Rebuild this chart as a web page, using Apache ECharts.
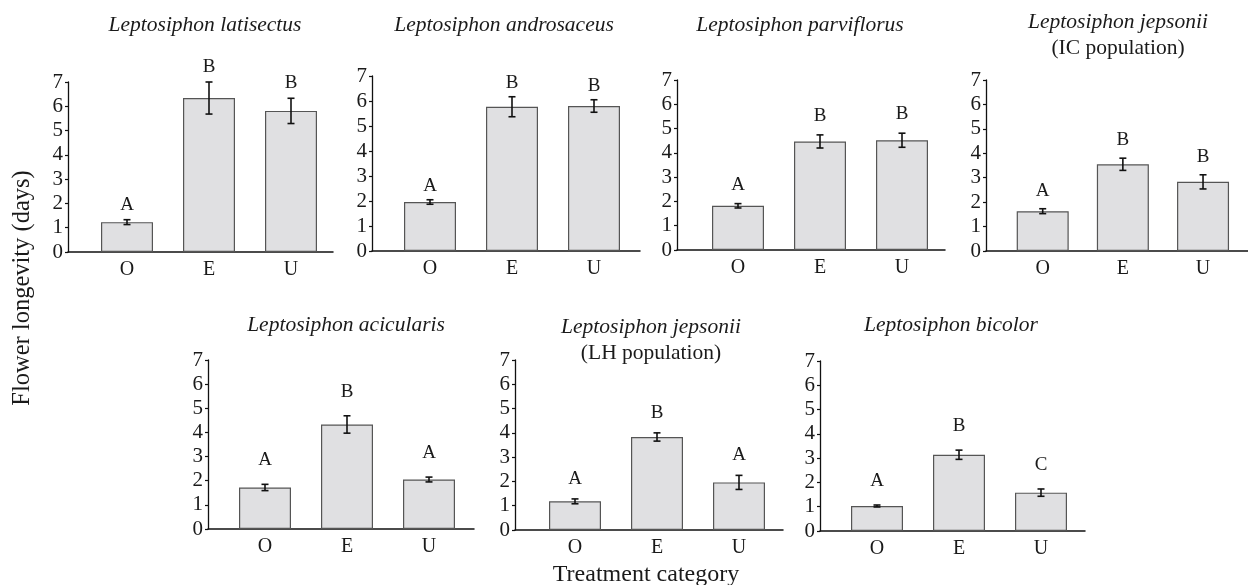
<!DOCTYPE html>
<html><head><meta charset="utf-8">
<script src="https://cdn.jsdelivr.net/npm/echarts@6/dist/echarts.min.js"></script>
<style>html,body{margin:0;padding:0;background:#fff}#c{width:1248px;height:585px}</style>
</head><body><div id="c"></div>
<script>
const categories = ['O', 'E', 'U'];
const yTicks = [0, 1, 2, 3, 4, 5, 6, 7];

const titleSpecies = ['Leptosiphon latisectus', 'Leptosiphon androsaceus', 'Leptosiphon parviflorus',
  'Leptosiphon jepsonii', 'Leptosiphon acicularis', 'Leptosiphon jepsonii', 'Leptosiphon bicolor'];
const titlePopulation = ['', '', '', '(IC population)', '', '(LH population)', ''];

const latisectusMean = [1.23, 6.34, 5.81];
const latisectusErr = [0.10, 0.66, 0.52];
const latisectusLetters = ['A', 'B', 'B'];

const androsaceusMean = [1.96, 5.77, 5.80];
const androsaceusErr = [0.09, 0.40, 0.25];
const androsaceusLetters = ['A', 'B', 'B'];

const parviflorusMean = [1.82, 4.47, 4.52];
const parviflorusErr = [0.09, 0.27, 0.29];
const parviflorusLetters = ['A', 'B', 'B'];

const jepsoniiICMean = [1.63, 3.55, 2.83];
const jepsoniiICErr = [0.10, 0.25, 0.29];
const jepsoniiICLetters = ['A', 'B', 'B'];

const acicularisMean = [1.72, 4.33, 2.05];
const acicularisErr = [0.13, 0.36, 0.10];
const acicularisLetters = ['A', 'B', 'A'];

const jepsoniiLHMean = [1.18, 3.83, 1.96];
const jepsoniiLHErr = [0.10, 0.17, 0.29];
const jepsoniiLHLetters = ['A', 'B', 'A'];

const bicolorMean = [1.03, 3.14, 1.58];
const bicolorErr = [0.04, 0.19, 0.15];
const bicolorLetters = ['A', 'B', 'C'];

const yAxisTitle = 'Flower longevity (days)';
const xAxisTitle = 'Treatment category';

// ---- layout / style (not data) ----
const panels = [
  {mean: latisectusMean, err: latisectusErr, letters: latisectusLetters},
  {mean: androsaceusMean, err: androsaceusErr, letters: androsaceusLetters},
  {mean: parviflorusMean, err: parviflorusErr, letters: parviflorusLetters},
  {mean: jepsoniiICMean, err: jepsoniiICErr, letters: jepsoniiICLetters},
  {mean: acicularisMean, err: acicularisErr, letters: acicularisLetters},
  {mean: jepsoniiLHMean, err: jepsoniiLHErr, letters: jepsoniiLHLetters},
  {mean: bicolorMean, err: bicolorErr, letters: bicolorLetters}
];
const layout = [
  {left: 68, top: 82, height: 170, width: 265, off: 59, gap: 15, tx: 205, ty: 12},
  {left: 372, top: 76, height: 175, width: 268, off: 58, gap: 14, tx: 504, ty: 12},
  {left: 677, top: 80, height: 170, width: 268, off: 61, gap: 19, tx: 800, ty: 12},
  {left: 986, top: 80, height: 171, width: 268, off: 58, gap: 18, tx: 1118, ty: 9},
  {left: 208, top: 360, height: 169, width: 266, off: 57, gap: 24, tx: 346, ty: 312},
  {left: 515, top: 360, height: 170, width: 268, off: 60, gap: 20, tx: 651, ty: 314},
  {left: 820, top: 361, height: 170, width: 265, off: 57, gap: 24, tx: 951, ty: 312}
];
const SP = 82;
const FONT = '"Liberation Serif", "Times New Roman", serif';

const grid = [], xAxis = [], yAxis = [], series = [], title = [];
layout.forEach((L, i) => {
  grid.push({left: L.left, top: L.top, width: L.width, height: L.height, containLabel: false});
  xAxis.push({
    type: 'value', gridIndex: i,
    min: -L.off / SP, max: (L.width - L.off) / SP,
    axisLine: {show: true, onZero: false, lineStyle: {color: '#111', width: 1.5}},
    axisTick: {show: false},
    splitLine: {show: false},
    axisLabel: {
      customValues: categories.map((c, k) => k),
      formatter: v => categories[Math.round(v)] || '',
      color: '#1a1a1a', fontFamily: FONT, fontSize: 20, margin: 8
    }
  });
  yAxis.push({
    type: 'value', gridIndex: i, min: yTicks[0], max: yTicks[yTicks.length - 1], interval: 1,
    axisLine: {show: true, onZero: false, lineStyle: {color: '#111', width: 1.3}},
    axisTick: {show: true, length: 3, lineStyle: {color: '#111', width: 1.2}},
    splitLine: {show: false},
    axisLabel: {color: '#1a1a1a', fontFamily: FONT, fontSize: 21, margin: 5}
  });
  const P = panels[i];
  series.push({
    type: 'bar', xAxisIndex: i, yAxisIndex: i, barWidth: 52, z: 2,
    data: P.mean.map((m, k) => [k, m]),
    itemStyle: {color: '#e0e0e2', borderColor: '#555', borderWidth: 1.2},
    silent: true, animation: false
  });
  series.push({
    type: 'custom', xAxisIndex: i, yAxisIndex: i, clip: false, silent: true, animation: false, z: 5,
    data: P.mean.map((m, k) => [k, m, P.err[k]]),
    renderItem: (params, api) => {
      const x = api.value(0), m = api.value(1), e = api.value(2);
      const t = api.coord([x, m + e]);
      const b = api.coord([x, m - e]);
      const cap = 3.5;
      const ls = {stroke: '#111', lineWidth: 1.6};
      return {type: 'group', children: [
        {type: 'line', shape: {x1: t[0], y1: t[1], x2: b[0], y2: b[1]}, style: ls},
        {type: 'line', shape: {x1: t[0] - cap, y1: t[1], x2: t[0] + cap, y2: t[1]}, style: ls},
        {type: 'line', shape: {x1: b[0] - cap, y1: b[1], x2: b[0] + cap, y2: b[1]}, style: ls},
        {type: 'text', x: t[0], y: t[1] - L.gap, style: {
          text: P.letters[params.dataIndex], font: '19px ' + FONT, fill: '#1a1a1a',
          align: 'center', verticalAlign: 'middle', textAlign: 'center', textVerticalAlign: 'middle'}}
      ]};
    }
  });
  title.push({
    left: L.tx, top: L.ty, textAlign: 'center', padding: 0,
    text: titlePopulation[i] ? '{i|' + titleSpecies[i] + '}\n{n|' + titlePopulation[i] + '}' : '{i|' + titleSpecies[i] + '}',
    textStyle: {
      fontWeight: 'normal',
      rich: {
        i: {fontFamily: FONT, fontStyle: 'italic', fontWeight: 'normal', fontSize: 21.5, color: '#1a1a1a', lineHeight: 26},
        n: {fontFamily: FONT, fontWeight: 'normal', fontSize: 21.5, color: '#1a1a1a', lineHeight: 26}
      }
    }
  });
});

const chart = echarts.init(document.getElementById('c'), null, {renderer: 'canvas'});
chart.setOption({
  backgroundColor: '#fff',
  animation: false,
  title, grid, xAxis, yAxis, series,
  graphic: [
    {type: 'text', x: 23, y: 288, rotation: Math.PI / 2,
      style: {text: yAxisTitle, font: '24.5px ' + FONT, fill: '#1a1a1a', align: 'center', verticalAlign: 'middle',
        textAlign: 'center', textVerticalAlign: 'middle'}},
    {type: 'text', x: 646, y: 575,
      style: {text: xAxisTitle, font: '24px ' + FONT, fill: '#1a1a1a', align: 'center', verticalAlign: 'middle',
        textAlign: 'center', textVerticalAlign: 'middle'}}
  ]
});
</script></body></html>
